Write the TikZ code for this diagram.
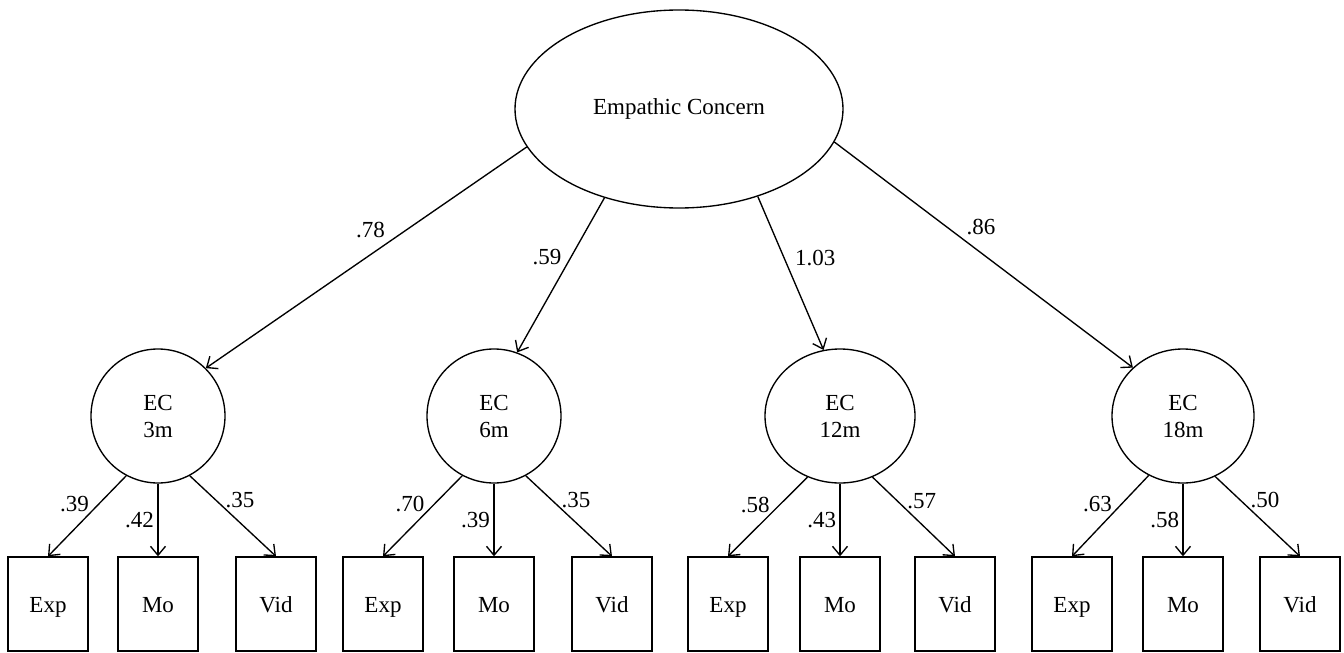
\documentclass[tikz,border=0pt]{standalone}
\usepackage{fontspec}
\setmainfont{Liberation Serif}
\usetikzlibrary{shapes.geometric,arrows.meta}

\begin{document}
\begin{tikzpicture}[x=1pt,y=-1pt,line width=1.35pt,
  every node/.style={font=\fontsize{23}{27}\selectfont},
  latent/.style={draw,ellipse,inner sep=0pt,minimum width=134pt,minimum height=134pt,align=center},
  indic/.style={draw,rectangle,inner sep=0pt,minimum width=80pt,minimum height=94pt,
    text height=21pt,text depth=5pt},
  load/.style={-{Straight Barb[length=9pt,width=15pt]}}]

  \useasboundingbox (0,0) rectangle (1344,653);

  %% second order factor
  \node[latent,minimum width=328pt,minimum height=198pt] (ec) at (679,109) {Empathic Concern};

  %% first order factors
  \node[latent] (ec3)  at (158,416) {EC\\3m};
  \node[latent] (ec6)  at (494,416) {EC\\6m};
  \node[latent,minimum width=150pt] (ec12) at (840,416) {EC\\12m};
  \node[latent,minimum width=142pt] (ec18) at (1183,416) {EC\\18m};

  %% indicators
  \node[indic] (exp3) at (48,604) {Exp};   %% 3m
  \node[indic] (mo3)  at (158,604) {Mo};
  \node[indic] (vid3) at (276,604) {Vid};
  \node[indic] (exp6) at (383,604) {Exp};  %% 6m
  \node[indic] (mo6)  at (494,604) {Mo};
  \node[indic] (vid6) at (612,604) {Vid};
  \node[indic] (exp12) at (728,604) {Exp}; %% 12m
  \node[indic] (mo12)  at (840,604) {Mo};
  \node[indic] (vid12) at (955,604) {Vid};
  \node[indic] (exp18) at (1072,604) {Exp}; %% 18m
  \node[indic] (mo18)  at (1183,604) {Mo};
  \node[indic] (vid18) at (1300,604) {Vid};

  %% factor to factor
  \draw[load] (ec.194) -- node[pos=.43,above left]{.78} (ec3.45);
  \draw[load] (ec.230) -- node[pos=.38,left=6pt]{.59} (ec6.70);
  \draw[load] (ec.312) -- node[pos=.4,right=7pt]{1.03} (ec12.104);
  \draw[load] (ec.348) -- node[pos=.43,above right]{.86} (ec18.136);

  %% factor to indicator
  \draw[load] (ec3.242) -- node[pos=.35,left=6pt]{.39} (exp3.north);
  \draw[load] (ec3.south) -- node[pos=.5,left]{.42} (mo3.north);
  \draw[load] (ec3.298) -- node[pos=.3,right=6pt]{.35} (vid3.north);

  \draw[load] (ec6.242) -- node[pos=.35,left=6pt]{.70} (exp6.north);
  \draw[load] (ec6.south) -- node[pos=.5,left]{.39} (mo6.north);
  \draw[load] (ec6.298) -- node[pos=.3,right=6pt]{.35} (vid6.north);

  \draw[load] (ec12.242) -- node[pos=.35,left=6pt]{.58} (exp12.north);
  \draw[load] (ec12.south) -- node[pos=.5,left]{.43} (mo12.north);
  \draw[load] (ec12.298) -- node[pos=.3,right=6pt]{.57} (vid12.north);

  \draw[load] (ec18.240) -- node[pos=.35,left=6pt]{.63} (exp18.north);
  \draw[load] (ec18.south) -- node[pos=.5,left]{.58} (mo18.north);
  \draw[load] (ec18.298) -- node[pos=.3,right=6pt]{.50} (vid18.north);

\end{tikzpicture}
\end{document}
